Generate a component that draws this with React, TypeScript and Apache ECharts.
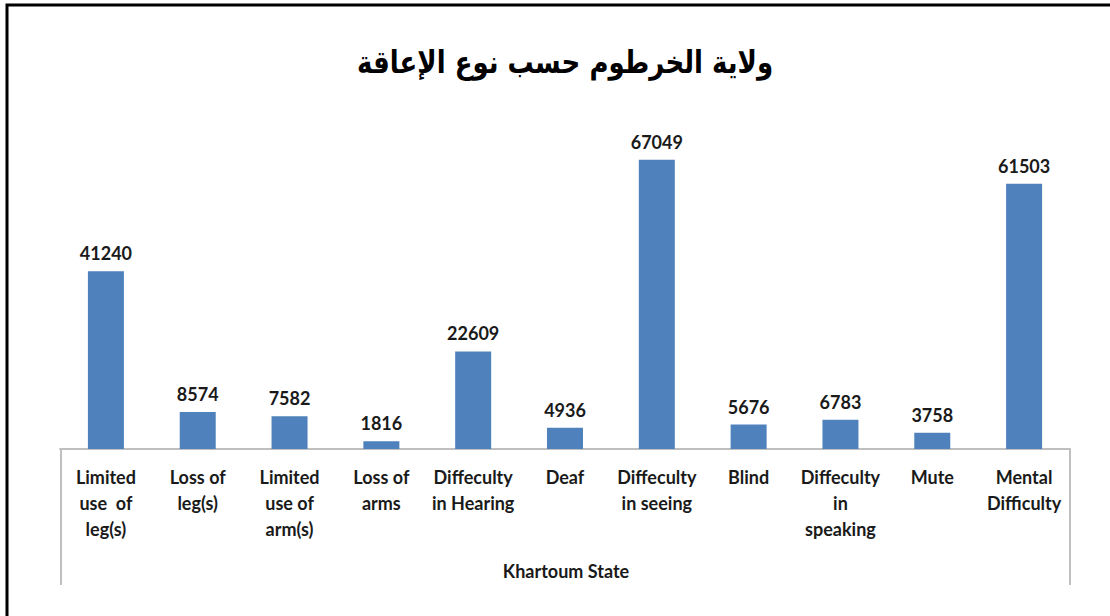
import React, { useEffect, useRef } from "react";
import * as echarts from "echarts";

const categories: string[] = [
  "Limited\nuse  of\nleg(s)",
  "Loss of\nleg(s)",
  "Limited\nuse of\narm(s)",
  "Loss of\narms",
  "Diffeculty\nin Hearing",
  "Deaf",
  "Diffeculty\nin seeing",
  "Blind",
  "Diffeculty\nin\nspeaking",
  "Mute",
  "Mental\nDifficulty",
];
const values: number[] = [41240, 8574, 7582, 1816, 22609, 4936, 67049, 5676, 6783, 3758, 61503];
const titleText = "ولاية الخرطوم حسب نوع الإعاقة";
const groupLabel = "Khartoum State";

export default function App() {
  const ref = useRef<HTMLDivElement>(null);
  useEffect(() => {
    document.body.style.margin = "0";
    const chart = echarts.init(ref.current!, null, { renderer: "svg" });
    const font = "Lato, 'Open Sans', sans-serif";
    chart.setOption({
      animation: false,
      backgroundColor: "#ffffff",
      grid: { left: 60, right: 40, top: 104, bottom: 167 },
      xAxis: {
        type: "category",
        data: categories,
        axisLine: { show: true, lineStyle: { color: "#bfbfbf", width: 2 } },
        axisTick: { show: false },
        axisLabel: {
          interval: 0,
          margin: 15,
          fontFamily: font,
          fontWeight: "bold",
          fontSize: 18,
          lineHeight: 26,
          color: "#1a1a1a",
          align: "center",
          verticalAlign: "top",
        },
      },
      yAxis: {
        type: "value",
        min: 0,
        max: 80000,
        show: false,
        splitLine: { show: false },
      },
      series: [
        {
          type: "bar",
          data: values,
          barWidth: 36,
          itemStyle: { color: "#4f81bd" },
          label: {
            show: true,
            position: "top",
            distance: 9,
            fontFamily: font,
            fontWeight: "bold",
            fontSize: 18,
            color: "#1a1a1a",
          },
        },
      ],
      graphic: [
        {
          type: "rect",
          shape: { x: 7, y: 5, width: 1300, height: 1000 },
          style: { fill: "none", stroke: "#000", lineWidth: 3 },
        },
        {
          type: "text",
          x: 565,
          y: 62,
          scaleX: 0.84,
          style: {
            text: titleText,
            fontFamily: "'DejaVu Sans', sans-serif",
            fontWeight: "bold",
            fontSize: 31,
            fill: "#000",
            align: "center",
            verticalAlign: "middle",
          },
        },
        {
          type: "line",
          shape: { x1: 61, y1: 449, x2: 61, y2: 585 },
          style: { stroke: "#bfbfbf", lineWidth: 2 },
        },
        {
          type: "line",
          shape: { x1: 1070, y1: 449, x2: 1070, y2: 585 },
          style: { stroke: "#bfbfbf", lineWidth: 2 },
        },
        {
          type: "text",
          x: 566,
          y: 571,
          style: {
            text: groupLabel,
            fontFamily: font,
            fontWeight: "bold",
            fontSize: 18,
            fill: "#1a1a1a",
            align: "center",
            verticalAlign: "middle",
          },
        },
      ],
    });
    return () => chart.dispose();
  }, []);
  return <div ref={ref} style={{ width: 1110, height: 616 }} />;
}
